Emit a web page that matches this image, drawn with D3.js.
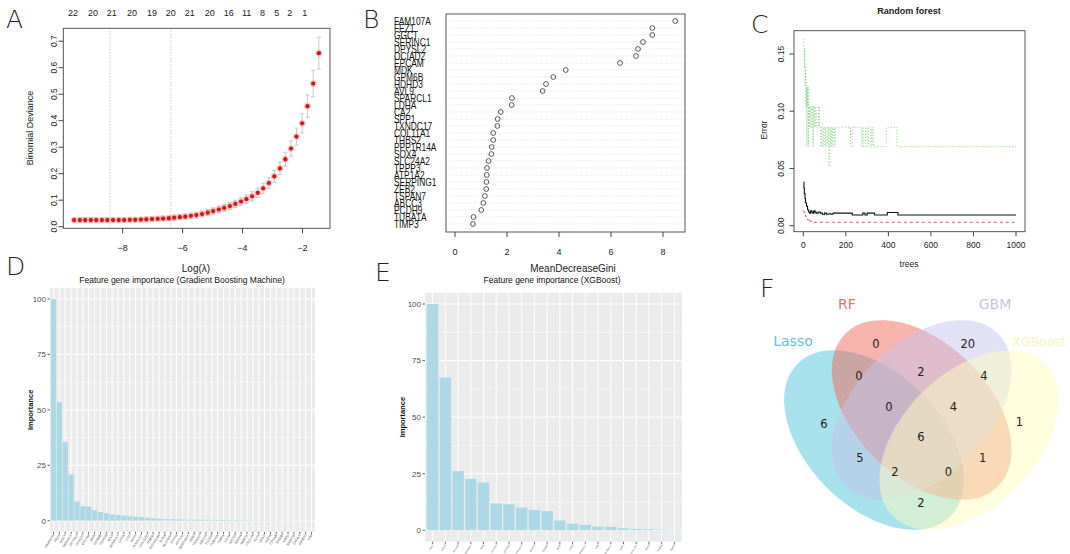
<!DOCTYPE html>
<html><head><meta charset="utf-8">
<script src="https://cdn.jsdelivr.net/npm/d3@7"></script>
<style>
body{margin:0;background:#fff}
svg{display:block}
text{font-family:"Liberation Sans",Arial,Helvetica,sans-serif}
</style>
</head><body>
<svg id="c" width="1070" height="554"></svg>
<script>
// ---------- Panel A: LASSO cross-validation ----------
const lassoLogLambda = [-9.62,-9.43,-9.25,-9.06,-8.88,-8.69,-8.51,-8.32,-8.13,-7.95,-7.76,-7.58,-7.39,-7.21,-7.02,-6.83,-6.65,-6.46,-6.28,-6.09,-5.91,-5.72,-5.54,-5.35,-5.16,-4.98,-4.79,-4.61,-4.42,-4.24,-4.05,-3.87,-3.68,-3.49,-3.31,-3.12,-2.94,-2.75,-2.57,-2.38,-2.20,-2.01,-1.83,-1.64,-1.45];
const lassoDev = [0.025,0.025,0.025,0.025,0.025,0.025,0.025,0.025,0.025,0.025,0.026,0.026,0.027,0.028,0.029,0.030,0.031,0.032,0.034,0.036,0.038,0.041,0.044,0.048,0.053,0.059,0.065,0.071,0.078,0.086,0.095,0.104,0.115,0.128,0.145,0.165,0.19,0.22,0.255,0.295,0.34,0.39,0.455,0.54,0.655];
const lassoSD = [0.008,0.008,0.008,0.008,0.008,0.008,0.008,0.008,0.008,0.008,0.008,0.008,0.008,0.008,0.008,0.008,0.008,0.008,0.009,0.009,0.010,0.010,0.011,0.011,0.012,0.012,0.013,0.013,0.014,0.014,0.015,0.016,0.017,0.018,0.019,0.020,0.022,0.024,0.026,0.029,0.032,0.036,0.042,0.050,0.060];
const lassoVLines = [-8.42,-6.39];
const lassoTopPos = [-9.66,-8.99,-8.36,-7.69,-7.02,-6.39,-5.76,-5.09,-4.46,-3.86,-3.33,-2.86,-2.42,-1.92];
const lassoTopN = [22,20,21,20,19,20,21,20,16,11,8,5,2,1];
const lassoXTicks = [-8,-6,-4,-2];
const lassoYTicks = [0,0.1,0.2,0.3,0.4,0.5,0.6,0.7];

// ---------- Panel B: Random forest MeanDecreaseGini ----------
const rfGenes = ["FAM107A","FEZ1","GGCT","SERINC1","DPYSL2","OCIAD2","EPCAM","MDK","GPM6B","HDHD3","AVL9","SPARCL1","LDHA","CA2","SPP1","TXNDC17","COL11A1","THBS2","PPP1R14A","SOX4","SLC24A2","TPPP3","ATP1A2","SERPING1","ZEB2","TSPAN7","ABCC3","PCDH9","TUBA1A","TIMP3"];
const rfGini = [8.47,7.59,7.59,7.23,7.04,6.96,6.35,4.26,3.78,3.50,3.37,2.19,2.18,1.76,1.64,1.63,1.47,1.47,1.41,1.40,1.29,1.23,1.22,1.21,1.20,1.15,1.09,1.01,0.71,0.69];
const rfXTicks = [0,2,4,6,8];

// ---------- Panel C: Random forest error vs trees ----------
const oobTrees = [1,3,5,8,10,15,20,25,30,35,40,45,50,55,60,70,80,90,100,110,120,130,140,150,225,230,275,280,290,300,330,335,390,395,440,445,1000];
const oobErr   = [0.038,0.033,0.028,0.024,0.020,0.017,0.014,0.012,0.011,0.013,0.012,0.011,0.013,0.012,0.011,0.012,0.011,0.010,0.011,0.010,0.0105,0.010,0.011,0.011,0.011,0.0094,0.0094,0.011,0.0094,0.011,0.011,0.0094,0.0094,0.0115,0.0115,0.0094,0.0094];
const redTrees = [1,3,6,10,15,20,25,30,40,45,50,55,1000];
const redErr   = [0.013,0.012,0.010,0.008,0.006,0.005,0.006,0.004,0.004,0.0035,0.003,0.003,0.003];
const greenTrees = [1,2,4,6,8,10,12,14,16,18,20,22,24,26,28,32,36,40,44,48,52,56,60,66,72,76,82,86,92,96,102,106,112,116,120,124,128,132,136,140,146,150,222,230,272,278,282,292,300,306,318,324,330,390,440,1000];
const greenErr   = [0.163,0.155,0.138,0.155,0.121,0.138,0.104,0.121,0.069,0.121,0.104,0.121,0.069,0.104,0.086,0.104,0.086,0.104,0.069,0.104,0.086,0.104,0.086,0.086,0.104,0.086,0.069,0.086,0.069,0.086,0.069,0.086,0.069,0.086,0.052,0.086,0.069,0.086,0.069,0.086,0.069,0.086,0.069,0.086,0.069,0.086,0.069,0.086,0.069,0.086,0.069,0.086,0.069,0.086,0.069,0.069];
const rfTreeTicks = [0,200,400,600,800,1000];
const rfErrTicks = [0,0.05,0.10,0.15];

// ---------- Panel D: GBM importance ----------
const gbmGenes = ["FAM107A","FEZ1","GGCT","SERINC1","DPYSL2","OCIAD2","EPCAM","MDK","GPM6B","HDHD3","AVL9","SPARCL1","LDHA","CA2","SPP1","TXNDC17","COL11A1","THBS2","PPP1R14A","SOX4","SLC24A2","TPPP3","ATP1A2","SERPING1","ZEB2","TSPAN7","ABCC3","PCDH9","TUBA1A","TIMP3","CD24","KRT19","SFRP4","MMP11","CXCL14","PLP1","GFAP","AQP4","CRYAB","S100B","NEFL","SNAP25","CHI3L1","IGFBP2","VIM"];
const gbmImp = [100,53.5,35.5,20.8,8.6,6.6,6.4,4.8,3.9,3.4,2.9,2.6,2.3,2.0,1.8,1.6,1.3,1.1,0.9,0.8,0.7,0.6,0.55,0.5,0.45,0.42,0.4,0.38,0.35,0.33,0.3,0.28,0.26,0.24,0.22,0.2,0.18,0.17,0.15,0.14,0.12,0.1,0.08,0.06,0.05];

// ---------- Panel E: XGBoost importance ----------
const xgbGenes = ["FEZ1","GGCT","EPCAM","SERINC1","MDK","OCIAD2","DPYSL2","FAM107A","HDHD3","GPM6B","AVL9","LDHA","SPARCL1","CA2","TXNDC17","SPP1","COL11A1","SOX4","THBS2","TIMP3"];
const xgbImp = [100,67.5,26.2,22.7,21.1,11.9,11.5,10.0,9.0,8.5,4.3,2.9,2.4,1.6,1.5,0.9,0.6,0.5,0.3,0.15];
const impTicks = [0,25,50,75,100];

// ---------- Panel F: Venn ----------
const vennSets = ["Lasso","RF","GBM","XGBoost"];
const vennColors = ["#4FC3D8","#EE6A5A","#C6C3EB","#FDFDC0"];
const vennLabelColors = ["#62c3d6","#e0786a","#c4c4e6","#f3f3b8"];
const vennCounts = [6,0,20,1, 0,5,2,2,4,1, 0,2,0,4, 6];
const vennRegions = ["L","R","G","X","LR","LG","LX","RG","GX","RX","LRG","LGX","LRX","RGX","LRGX"];

const svg = d3.select("#c");
svg.append("rect").attr("width",1070).attr("height",554).attr("fill","#fff");

function letter(t,x,y){
  svg.append("text").attr("x",x).attr("y",y).text(t)
    .style("font-family","'DejaVu Sans','Lato',sans-serif").style("font-weight",200)
    .attr("font-size",25).attr("fill","#222");
}
letter("A",6,28); letter("B",363,28); letter("C",751,33);
letter("D",6,275); letter("E",375,281); letter("F",760,297);

// ===== Panel A =====
(function(){
  const g = svg.append("g");
  const x = d3.scaleLinear().domain([-9.98,-1.08]).range([63.3,330]);
  const y = d3.scaleLinear().domain([0,0.7]).range([226.7,41.2]);
  const top = 28.3, bot = 228.3;
  g.selectAll(".vl").data(lassoVLines).join("line")
    .attr("x1",d=>x(d)).attr("x2",d=>x(d)).attr("y1",top).attr("y2",bot)
    .attr("stroke","#9a9a9a").attr("stroke-width",0.8).attr("stroke-dasharray","1,2");
  const data = lassoLogLambda.map((v,i)=>({x:v,y:lassoDev[i],sd:lassoSD[i]}));
  g.selectAll(".eb").data(data).join("line")
    .attr("x1",d=>x(d.x)).attr("x2",d=>x(d.x)).attr("y1",d=>y(d.y-d.sd)).attr("y2",d=>y(d.y+d.sd))
    .attr("stroke","#bdbdbd").attr("stroke-width",0.8);
  ["u","l"].forEach(k=>{
    g.selectAll(".cap"+k).data(data).join("line")
      .attr("x1",d=>x(d.x)-2.2).attr("x2",d=>x(d.x)+2.2)
      .attr("y1",d=>y(k==="u"?d.y+d.sd:d.y-d.sd)).attr("y2",d=>y(k==="u"?d.y+d.sd:d.y-d.sd))
      .attr("stroke","#bdbdbd").attr("stroke-width",0.8);
  });
  g.selectAll(".halo").data(data).join("circle")
    .attr("cx",d=>x(d.x)).attr("cy",d=>y(d.y)).attr("r",3.4).attr("fill","#f19a9a").attr("opacity",0.55);
  g.selectAll(".pt").data(data).join("circle")
    .attr("cx",d=>x(d.x)).attr("cy",d=>y(d.y)).attr("r",2.1).attr("fill","#d41515");
  g.append("rect").attr("x",63.3).attr("y",top).attr("width",330-63.3).attr("height",bot-top)
    .attr("fill","none").attr("stroke","#444").attr("stroke-width",0.9);
  g.selectAll(".xt").data(lassoXTicks).join("line")
    .attr("x1",d=>x(d)).attr("x2",d=>x(d)).attr("y1",bot).attr("y2",bot+5).attr("stroke","#444");
  g.selectAll(".xl").data(lassoXTicks).join("text")
    .attr("x",d=>x(d)).attr("y",251).attr("text-anchor","middle").attr("font-size",9).attr("fill","#222")
    .text(d=>"\u2212"+Math.abs(d));
  g.selectAll(".yt").data(lassoYTicks).join("line")
    .attr("x1",63.3).attr("x2",58.5).attr("y1",d=>y(d)).attr("y2",d=>y(d)).attr("stroke","#444");
  g.selectAll(".yl").data(lassoYTicks).join("text")
    .attr("transform",d=>`translate(56.5,${y(d)}) rotate(-90)`).attr("text-anchor","middle")
    .attr("font-size",8.5).attr("fill","#222").text(d=>d.toFixed(1));
  g.append("text").attr("transform","translate(33,128) rotate(-90)").attr("text-anchor","middle")
    .attr("font-size",9).attr("fill","#222").text("Binomial Deviance");
  g.selectAll(".tn").data(lassoTopPos).join("text")
    .attr("x",d=>x(d)).attr("y",15.5).attr("text-anchor","middle").attr("font-size",9).attr("fill","#222")
    .text((d,i)=>lassoTopN[i]);
  g.append("text").attr("x",196).attr("y",272).attr("text-anchor","middle").attr("font-size",10).attr("fill","#222").text("Log(\u03BB)");
})();

// ===== Panel B =====
(function(){
  const g = svg.append("g");
  const x = d3.scaleLinear().domain([0,8]).range([455,663]);
  const y = d3.scalePoint().domain(rfGenes).range([21,224]);
  const L = 446, R = 685, T = 14, B = 232;
  g.selectAll(".hl").data(rfGenes).join("line")
    .attr("x1",L).attr("x2",R).attr("y1",d=>y(d)).attr("y2",d=>y(d))
    .attr("stroke","#cfcfcf").attr("stroke-width",0.6).attr("stroke-dasharray","1,1.5");
  g.selectAll(".dot").data(rfGenes).join("circle")
    .attr("cx",(d,i)=>x(rfGini[i])).attr("cy",d=>y(d)).attr("r",2.4)
    .attr("fill","none").attr("stroke","#333").attr("stroke-width",0.8);
  g.append("rect").attr("x",L).attr("y",T).attr("width",R-L).attr("height",B-T)
    .attr("fill","none").attr("stroke","#444").attr("stroke-width",0.9);
  g.selectAll(".gl").data(rfGenes).join("text")
    .attr("transform",d=>`translate(394,${y(d)+3.6}) scale(0.8,1.12)`)
    .attr("font-size",10.5).attr("fill","#111").text(d=>d);
  g.selectAll(".xt").data(rfXTicks).join("line")
    .attr("x1",d=>x(d)).attr("x2",d=>x(d)).attr("y1",B).attr("y2",B+5).attr("stroke","#444");
  g.selectAll(".xl").data(rfXTicks).join("text")
    .attr("x",d=>x(d)).attr("y",255).attr("text-anchor","middle").attr("font-size",9).attr("fill","#222").text(d=>d);
  g.append("text").attr("x",573).attr("y",272).attr("text-anchor","middle").attr("font-size",10).attr("fill","#222").text("MeanDecreaseGini");
})();

// ===== Panel C =====
(function(){
  const g = svg.append("g");
  const x = d3.scaleLinear().domain([0,1000]).range([803.3,1016]);
  const y = d3.scaleLinear().domain([0,0.15]).range([225.7,54]);
  const L = 794, R = 1025, T = 30.7, B = 231.7;
  const line = d3.line().x(d=>x(d[0])).y(d=>y(d[1])).curve(d3.curveStepAfter);
  g.append("path").attr("d",line(greenTrees.map((t,i)=>[t,greenErr[i]])))
    .attr("fill","none").attr("stroke","#6cc86c").attr("stroke-width",0.85).attr("stroke-dasharray","1,2");
  g.append("path").attr("d",line(redTrees.map((t,i)=>[t,redErr[i]])))
    .attr("fill","none").attr("stroke","#DF536B").attr("stroke-width",1).attr("stroke-dasharray","3,3");
  g.append("path").attr("d",line(oobTrees.map((t,i)=>[t,oobErr[i]])))
    .attr("fill","none").attr("stroke","#111").attr("stroke-width",1.1);
  g.append("rect").attr("x",L).attr("y",T).attr("width",R-L).attr("height",B-T)
    .attr("fill","none").attr("stroke","#444").attr("stroke-width",0.9);
  g.selectAll(".xt").data(rfTreeTicks).join("line")
    .attr("x1",d=>x(d)).attr("x2",d=>x(d)).attr("y1",B).attr("y2",B+4.5).attr("stroke","#444");
  g.selectAll(".xl").data(rfTreeTicks).join("text")
    .attr("x",d=>x(d)).attr("y",248).attr("text-anchor","middle").attr("font-size",8.5).attr("fill","#222").text(d=>d);
  g.selectAll(".yt").data(rfErrTicks).join("line")
    .attr("x1",L).attr("x2",L-4.5).attr("y1",d=>y(d)).attr("y2",d=>y(d)).attr("stroke","#444");
  g.selectAll(".yl").data(rfErrTicks).join("text")
    .attr("transform",d=>`translate(784,${y(d)}) rotate(-90)`).attr("text-anchor","middle")
    .attr("font-size",8.5).attr("fill","#222").text(d=>d.toFixed(2));
  g.append("text").attr("transform","translate(767,130) rotate(-90)").attr("text-anchor","middle")
    .attr("font-size",8.5).attr("fill","#222").text("Error");
  g.append("text").attr("x",909).attr("y",267).attr("text-anchor","middle").attr("font-size",8.5).attr("fill","#222").text("trees");
  g.append("text").attr("x",909).attr("y",14).attr("text-anchor","middle").attr("font-size",9).attr("font-weight","bold").attr("fill","#222").text("Random forest");
})();

// ===== ggplot-like importance panels =====
function ggPanel(genes, vals, L, R, T, B, yTitleX, title, titleX, lblSize){
  const g = svg.append("g");
  const x = d3.scaleBand().domain(genes).range([L,R]).paddingInner(0.1).paddingOuter(0.15);
  const y = d3.scaleLinear().domain([-5,105]).range([B,T]);
  g.append("rect").attr("x",L).attr("y",T).attr("width",R-L).attr("height",B-T).attr("fill","#EBEBEB");
  const minor = [12.5,37.5,62.5,87.5];
  g.selectAll(".mn").data(minor).join("line")
    .attr("x1",L).attr("x2",R).attr("y1",d=>y(d)).attr("y2",d=>y(d)).attr("stroke","#fff").attr("stroke-width",0.5);
  g.selectAll(".mj").data(impTicks).join("line")
    .attr("x1",L).attr("x2",R).attr("y1",d=>y(d)).attr("y2",d=>y(d)).attr("stroke","#fff").attr("stroke-width",1);
  g.selectAll(".vx").data(genes).join("line")
    .attr("x1",d=>x(d)+x.bandwidth()/2).attr("x2",d=>x(d)+x.bandwidth()/2).attr("y1",T).attr("y2",B)
    .attr("stroke","#fff").attr("stroke-width",1);
  g.selectAll(".bar").data(genes).join("rect")
    .attr("x",d=>x(d)).attr("width",x.bandwidth())
    .attr("y",(d,i)=>y(vals[i])).attr("height",(d,i)=>y(0)-y(vals[i]))
    .attr("fill","#ADD8E6");
  g.selectAll(".yt").data(impTicks).join("line")
    .attr("x1",L).attr("x2",L-2.5).attr("y1",d=>y(d)).attr("y2",d=>y(d)).attr("stroke","#333").attr("stroke-width",0.8);
  g.selectAll(".yl").data(impTicks).join("text")
    .attr("x",L-4).attr("y",d=>y(d)+2.8).attr("text-anchor","end").attr("font-size",8).attr("fill","#4d4d4d").text(d=>d);
  g.selectAll(".xt").data(genes).join("line")
    .attr("x1",d=>x(d)+x.bandwidth()/2).attr("x2",d=>x(d)+x.bandwidth()/2).attr("y1",B).attr("y2",B+2.5)
    .attr("stroke","#333").attr("stroke-width",0.7);
  g.selectAll(".xl").data(genes).join("text")
    .attr("transform",d=>`translate(${x(d)+x.bandwidth()/2+1},${B+3.5}) rotate(-58)`)
    .attr("text-anchor","end").attr("font-size",lblSize).attr("fill","#4d4d4d").text(d=>d);
  g.append("text").attr("transform",`translate(${yTitleX},${(T+B)/2}) rotate(-90)`).attr("text-anchor","middle")
    .attr("font-size",7.5).attr("font-weight","bold").attr("fill","#111").text("Importance");
  g.append("text").attr("x",titleX).attr("y",283).attr("text-anchor","middle").attr("font-size",8.5).attr("fill","#111").text(title);
}
ggPanel(gbmGenes, gbmImp, 50, 315, 287.9, 531.8, 32.5, "Feature gene importance (Gradient Boosting Machine)", 182, 3.4);
ggPanel(xgbGenes, xgbImp, 425, 682, 292.7, 541.6, 405, "Feature gene importance (XGBoost)", 552, 2.5);

// ===== Panel F: Venn =====
(function(){
  const g = svg.append("g");
  const ell = [
    {cx:874, cy:440, rot:45},
    {cx:921.7, cy:410, rot:45},
    {cx:921.7, cy:410, rot:-45},
    {cx:969.3, cy:440, rot:-45}
  ];
  const a = 108, b = 67;
  g.selectAll("ellipse").data(ell).join("ellipse")
    .attr("transform",d=>`translate(${d.cx},${d.cy}) rotate(${d.rot})`)
    .attr("rx",a).attr("ry",b).attr("fill",(d,i)=>vennColors[i]).attr("fill-opacity",0.5);
  const labelPos = {L:[824,424],R:[876,344],G:[967.7,344],X:[1019.3,421.7],LR:[859,375.7],LG:[860,458],LX:[921,503.3],RG:[921,371.7],GX:[984,375.7],RX:[982.7,458],LRG:[889,406.7],LGX:[895,471.7],LRX:[948.3,471.7],RGX:[953.3,406.7],LRGX:[921,436.7]};
  g.selectAll(".cnt").data(vennRegions).join("text")
    .attr("x",d=>labelPos[d][0]).attr("y",d=>labelPos[d][1]+4)
    .attr("text-anchor","middle").attr("font-size",11.5).attr("fill","#222")
    .style("font-family","'DejaVu Sans',sans-serif").text((d,i)=>vennCounts[i]);
  const setPos = [[793,346],[847,309],[995,309],[1039,346]];
  const setSize = [14,14,14,12.5];
  g.selectAll(".sl").data(vennSets).join("text")
    .attr("x",(d,i)=>setPos[i][0]).attr("y",(d,i)=>setPos[i][1])
    .attr("text-anchor","middle").attr("font-size",(d,i)=>setSize[i]).attr("fill",(d,i)=>vennLabelColors[i])
    .style("font-family","'DejaVu Sans',sans-serif").text(d=>d);
})();
</script>
</body></html>
